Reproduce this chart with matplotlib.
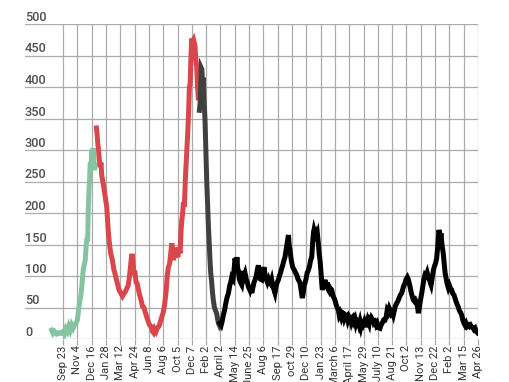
import matplotlib
matplotlib.use("Agg")
import matplotlib.pyplot as plt
from matplotlib.transforms import blended_transform_factory, offset_copy

plt.rcParams['font.family'] = ['Roboto', 'DejaVu Sans']

tick_labels = ["Sep 23", "Nov 4", "Dec 16", "Jan 28", "Mar 12", "Apr 24", "Jun 8", "Aug 6",
               "Oct 5", "Dec 7", "Feb 2", "April 2", "May 14", "June 25", "Aug 6", "Sep 17",
               "oct 29", "Dec 10", "Jan 23", "March 6", "April 17", "May 29", "July 10",
               "Aug 21", "Oct 2", "Nov 13", "Dec 22", "Feb 2", "Mar 15", "Apr 26"]
y_ticks = [0, 50, 100, 150, 200, 250, 300, 350, 400, 450, 500]

green_x = [-0.8, -0.7, -0.6, -0.45, -0.3, -0.15, 0.0, 0.1, 0.2, 0.3, 0.4, 0.5, 0.6, 0.7, 0.8, 0.9,
           1.0, 1.08, 1.15, 1.25, 1.32, 1.4, 1.48, 1.55, 1.62, 1.68, 1.72, 1.76, 1.82, 1.86, 1.9,
           1.95, 2.0, 2.05, 2.1, 2.15, 2.2, 2.25]
green_y = [14, 9, 12, 8, 10, 9, 12, 8, 16, 12, 20, 14, 22, 17, 22, 25,
           30, 45, 58, 70, 85, 108, 118, 125, 150, 160, 155, 205, 240, 255, 280,
           270, 300, 290, 303, 285, 268, 275]

red_x = [2.33, 2.38, 2.43, 2.48, 2.53, 2.6, 2.65, 2.7, 2.78, 2.85, 2.95, 3.05, 3.12, 3.17, 3.25,
         3.33, 3.45, 3.55, 3.63, 3.72, 3.8, 3.87, 3.95, 4.05, 4.15, 4.25, 4.35, 4.45, 4.55, 4.62,
         4.7, 4.78, 4.83, 4.9, 4.95, 5.03, 5.1, 5.18, 5.27, 5.35, 5.45, 5.55, 5.65, 5.75, 5.85,
         5.95, 6.05, 6.15, 6.25, 6.32, 6.4, 6.5, 6.6, 6.7, 6.8, 6.9, 7.0, 7.1, 7.2, 7.28, 7.36,
         7.45, 7.52, 7.6, 7.67, 7.72, 7.8, 7.88, 7.94, 8.02, 8.1, 8.18, 8.24, 8.3, 8.36, 8.41,
         8.48, 8.55, 8.64, 8.72, 8.78, 8.83, 8.88, 8.93, 8.99, 9.05, 9.12, 9.22, 9.28, 9.34,
         9.4, 9.46, 9.52, 9.58, 9.63]
red_y = [335, 325, 310, 300, 285, 273, 280, 260, 250, 240, 225, 210, 185, 168, 150,
         136, 125, 110, 104, 95, 88, 81, 76, 72, 68, 72, 75, 80, 85, 95,
         112, 130, 135, 118, 105, 105, 90, 88, 78, 70, 62, 52, 50, 42, 35,
         28, 22, 20, 12, 10, 16, 12, 18, 20, 27, 35, 42, 55, 75, 100, 114,
         120, 135, 152, 140, 125, 145, 130, 141, 130, 145, 136, 170, 189, 200, 217,
         210, 255, 295, 330, 365, 400, 405, 440, 477, 472, 475, 465, 445, 432,
         400, 379, 385, 380, 392]

gray_x = [9.53, 9.58, 9.62, 9.66, 9.7, 9.74, 9.8, 9.85, 9.92, 9.98, 10.04, 10.1, 10.16, 10.22,
          10.27, 10.32, 10.38, 10.44, 10.5, 10.58, 10.66, 10.74, 10.8, 10.86, 10.92, 10.97]
gray_y = [363, 375, 400, 430, 428, 410, 415, 380, 348, 300, 252, 215, 178, 150,
          125, 105, 92, 75, 62, 50, 45, 40, 32, 25, 22, 25]

black_x = [10.97, 11.05, 11.12, 11.2, 11.28, 11.36, 11.45, 11.56, 11.65, 11.72, 11.79, 11.88, 11.95,
           12.02, 12.1, 12.15, 12.2, 12.25, 12.32, 12.4, 12.49, 12.55, 12.6, 12.66, 12.72, 12.8,
           12.88, 12.95, 13.05, 13.12, 13.19, 13.27, 13.35, 13.42, 13.5, 13.58, 13.65, 13.72, 13.8,
           13.88, 13.95, 14.05, 14.12, 14.2, 14.28, 14.36, 14.44, 14.5, 14.58, 14.65, 14.72, 14.81,
           14.9, 14.97, 15.05, 15.12, 15.2, 15.28, 15.36, 15.44, 15.51, 15.58, 15.65, 15.72, 15.75,
           15.8, 15.86, 15.95, 16.05, 16.15, 16.25, 16.33, 16.42, 16.5, 16.56, 16.62, 16.68, 16.72,
           16.78, 16.85, 16.91, 16.98, 17.06, 17.14, 17.22, 17.3, 17.38, 17.45, 17.5, 17.54, 17.6,
           17.66, 17.72, 17.77, 17.85, 17.9, 17.96, 18.03, 18.08, 18.12, 18.2, 18.25, 18.31, 18.36,
           18.42, 18.48, 18.54, 18.62, 18.7, 18.77, 18.85, 18.92, 19.0, 19.08, 19.16, 19.24, 19.3,
           19.36, 19.44, 19.52, 19.59, 19.66, 19.74, 19.82, 19.9, 19.98, 20.06, 20.12, 20.17, 20.25,
           20.32, 20.4, 20.46, 20.52, 20.6, 20.68, 20.75, 20.82, 20.87, 20.95, 21.05, 21.12, 21.22,
           21.3, 21.38, 21.45, 21.52, 21.57, 21.65, 21.72, 21.8, 21.88, 21.95, 22.05, 22.15, 22.22,
           22.3, 22.4, 22.5, 22.58, 22.65, 22.72, 22.8, 22.88, 22.95, 23.02, 23.08, 23.15, 23.22,
           23.32, 23.4, 23.5, 23.58, 23.67, 23.75, 23.82, 23.9, 23.98, 24.06, 24.12, 24.18, 24.25,
           24.32, 24.4, 24.48, 24.55, 24.62, 24.72, 24.78, 24.83, 24.9, 24.98, 25.07, 25.15, 25.22,
           25.3, 25.38, 25.45, 25.53, 25.6, 25.66, 25.72, 25.8, 25.88, 25.95, 26.03, 26.11, 26.18,
           26.23, 26.27, 26.32, 26.37, 26.41, 26.48, 26.57, 26.65, 26.7, 26.76, 26.84, 26.93, 27.0,
           27.08, 27.16, 27.24, 27.32, 27.39, 27.46, 27.54, 27.62, 27.7, 27.78, 27.86, 27.94, 28.02,
           28.09, 28.16, 28.24, 28.33, 28.4, 28.48, 28.56, 28.64, 28.72, 28.8, 28.88, 28.96]
black_y = [25, 22, 28, 38, 45, 55, 65, 73, 85, 90, 98, 95, 110,
           128, 115, 130, 112, 109, 95, 90, 86, 95, 108, 100, 104, 95,
           90, 83, 78, 85, 73, 82, 90, 94, 100, 110, 117, 105, 95,
           94, 105, 114, 100, 95, 90, 95, 90, 88, 94, 85, 80, 73,
           85, 90, 94, 100, 105, 112, 118, 125, 130, 140, 150, 160, 165,
           150, 141, 125, 114, 110, 105, 102, 95, 92, 89, 80, 70, 65,
           72, 85, 89, 95, 105, 109, 115, 125, 130, 155, 168, 173, 168,
           170, 165, 168, 150, 135, 125, 105, 88, 78, 85, 90, 94, 85,
           80, 90, 78, 75, 80, 78, 70, 66, 62, 55, 50, 46, 38,
           41, 35, 42, 41, 33, 38, 38, 30, 36, 33, 28, 33, 35,
           28, 32, 25, 30, 28, 22, 28, 20, 25, 22, 28, 22, 22,
           30, 25, 38, 28, 33, 30, 25, 27, 22, 25, 18, 17, 22,
           25, 30, 30, 35, 45, 42, 49, 45, 40, 42, 38, 45, 52,
           57, 60, 66, 70, 73, 80, 85, 89, 95, 98, 95, 90, 83,
           75, 68, 62, 60, 62, 57, 50, 41, 50, 62, 73, 85, 95,
           102, 100, 105, 98, 95, 90, 86, 98, 109, 115, 120, 128, 145,
           160, 173, 168, 160, 168, 150, 136, 118, 105, 98, 88, 81, 85,
           80, 78, 72, 70, 65, 60, 55, 51, 45, 42, 38, 30, 25,
           22, 25, 20, 22, 20, 22, 19, 18, 15, 17, 12, 10]

fig = plt.figure(figsize=(5.10, 3.82), dpi=100)
ax = fig.add_axes([25 / 510, 1 - 339 / 382, (478 - 25) / 510, (339 - 24) / 382])

ax.set_xlim(-2.66, 29.0)
ax.set_ylim(0, 500)

for s in ax.spines.values():
    s.set_visible(False)

ax.set_yticks(y_ticks)
ax.set_yticklabels([])
ax.tick_params(axis='y', length=0)
ax.set_xticks(range(len(tick_labels)))
ax.set_xticklabels(tick_labels, rotation=90, fontsize=8.1, color='#333333', va='top', ha='center')
ax.tick_params(axis='x', length=4, color='#a8a8a8', width=0.9, pad=0.5)

ax.grid(True, color='#ababab', linewidth=0.9)
ax.set_axisbelow(True)

tr = offset_copy(blended_transform_factory(ax.transAxes, ax.transData), fig=fig, x=0, y=3, units='dots')
for v in y_ticks:
    ax.text(0.0, v, str(v), transform=tr, ha='left', va='baseline', fontsize=9.2,
            color='#505050', fontweight='medium')

lw = 3.6
ax.plot(green_x, green_y, color='#86c3a1', lw=lw, solid_joinstyle='miter', zorder=3)
ax.plot(red_x, red_y, color='#d9464b', lw=lw, solid_joinstyle='miter', zorder=3)
ax.plot(gray_x, gray_y, color='#404040', lw=lw, solid_joinstyle='miter', zorder=3)
ax.plot(black_x, black_y, color='#000000', lw=lw, solid_joinstyle='miter', zorder=3)

fig.savefig('out.png', dpi=100)
